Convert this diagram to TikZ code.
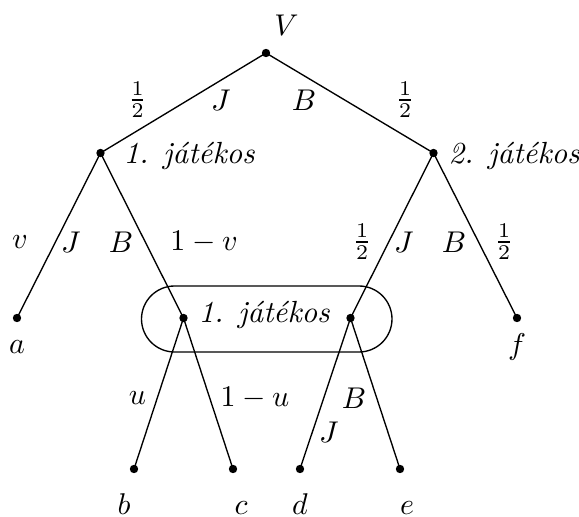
\documentclass[tikz,border=0pt]{standalone}
\usepackage{tikz}
\usetikzlibrary{positioning}

\begin{document}
\begin{tikzpicture}[
  x=0.3333pt,y=-0.3333pt,
  dot/.style={circle,fill=black,inner sep=0pt,minimum size=2.8pt},
  branch/.style={draw=black,line width=0.45pt},
  lbl/.style={inner sep=0pt},
  player/.style={inner sep=0pt,anchor=west,font=\fontsize{10.2}{12.2}\selectfont\itshape},
  payoff/.style={inner sep=0pt,anchor=base},
]
  \useasboundingbox (0,0) rectangle (579,517);

  % decision points
  \node[dot] (root) at (266,53) {};
  \node[dot] (p1) at (100.5,153) {};
  \node[dot] (p2) at (433.5,153) {};
  \node[dot] (a) at (17,318) {};
  \node[dot] (m1) at (183.5,318) {};
  \node[dot] (m2) at (350.5,318) {};
  \node[dot] (f) at (517,318) {};
  \node[dot] (b) at (134,469) {};
  \node[dot] (c) at (233,469) {};
  \node[dot] (d) at (300,469) {};
  \node[dot] (e) at (400,469) {};

  \draw[branch] (root.center) -- (p1.center);
  \draw[branch] (root.center) -- (p2.center);
  \draw[branch] (p1.center) -- (a.center);
  \draw[branch] (p1.center) -- (m1.center);
  \draw[branch] (p2.center) -- (m2.center);
  \draw[branch] (p2.center) -- (f.center);
  \draw[branch] (m1.center) -- (b.center);
  \draw[branch] (m1.center) -- (c.center);
  \draw[branch] (m2.center) -- (d.center);
  \draw[branch] (m2.center) -- (e.center);

  % information set of player 1
  \draw[branch,rounded corners=11pt] (141.5,286) rectangle (392,352);

  \node[lbl] (vlab) at (286.5,25) {$V$};
  \node[player] (pl1) at (123,156) {1. játékos};
  \node[player] (pl2) at (448,156) {2. játékos};
  \node[player] (pl3) at (198,315) {1. játékos};

  \node[lbl] (q1) at (137.5,100) {$\frac12$};
  \node[lbl] (j1) at (221,100) {$J$};
  \node[lbl] (b1) at (304,100) {$B$};
  \node[lbl] (q2) at (405,100) {$\frac12$};

  \node[lbl] (pv) at (20,242) {$v$};
  \node[lbl] (j2) at (71,242) {$J$};
  \node[lbl] (b2) at (121,242) {$B$};
  \node[lbl] (pnv) at (204,242) {$1-v$};
  \node[lbl] (q3) at (362,242) {$\frac12$};
  \node[lbl] (j3) at (404,242) {$J$};
  \node[lbl] (b3) at (454,242) {$B$};
  \node[lbl] (q4) at (504,242) {$\frac12$};

  \node[lbl] (pu) at (137.5,398) {$u$};
  \node[lbl] (pnu) at (255,398) {$1-u$};
  \node[lbl] (b4) at (354,398) {$B$};
  \node[lbl] (j4) at (329,432) {$J$};

  \node[lbl] (alab) at (17,347) {$a$};
  \node[lbl] (flab) at (517,347) {$f$};
  \node[payoff] (blab) at (124,515) {$b$};
  \node[payoff] (clab) at (241,515) {$c$};
  \node[payoff] (dlab) at (300,515) {$d$};
  \node[payoff] (elab) at (407,515) {$e$};
\end{tikzpicture}
\end{document}
